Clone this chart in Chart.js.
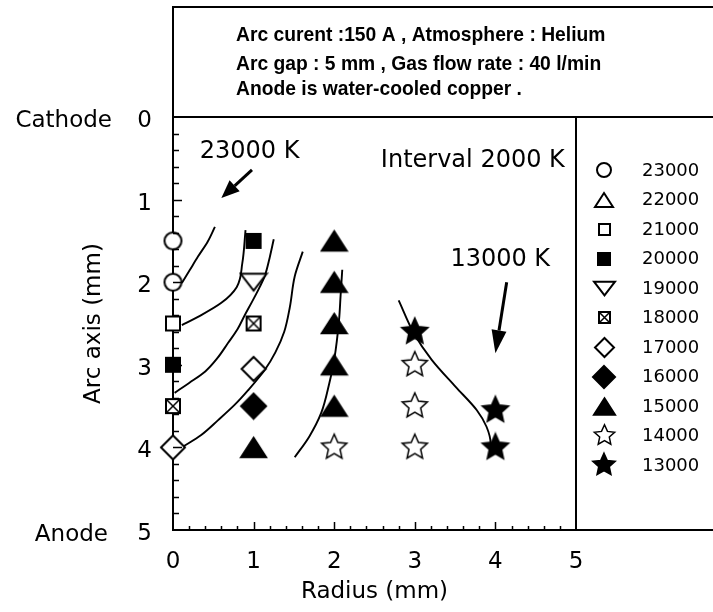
<!DOCTYPE html>
<html>
<head>
<meta charset="utf-8">
<script src="https://cdn.jsdelivr.net/npm/chart.js@4.4.1/dist/chart.umd.min.js"></script>
<style>
    html, body { margin: 0; padding: 0; background: #fff; }
    canvas { display: block; }
</style>
</head>
<body>
<canvas id="isothermChart" width="713" height="612"></canvas>
<script>
// Isotherms of a helium arc (radius vs. distance along the arc axis)
const temperatures = ['23000', '22000', '21000', '20000', '19000', '18000', '17000', '16000', '15000', '14000', '13000'];

// measured points, [radius mm, axial position mm]
const pts23000 = [[0, 1.5], [0, 2.0]];
const pts22000 = [];
const pts21000 = [[0, 2.5]];
const pts20000 = [[0, 3.0], [1, 1.5]];
const pts19000 = [[1, 2.0]];
const pts18000 = [[0, 3.5], [1, 2.5]];
const pts17000 = [[0, 4.0], [1, 3.05]];
const pts16000 = [[1, 3.5]];
const pts15000 = [[1, 4.0], [2, 1.5], [2, 2.0], [2, 2.5], [2, 3.0], [2, 3.5]];
const pts14000 = [[2, 4.0], [3, 3.0], [3, 3.5], [3, 4.0]];
const pts13000 = [[3, 2.6], [4, 3.55], [4, 4.0]];

// hand-fitted isotherm curves, ordered from cathode side to anode side
const iso23000 = [[0.52, 1.33], [0.43, 1.51], [0.31, 1.69], [0.21, 1.85], [0.11, 2.01]];
const iso21000 = [[0.90, 1.37], [0.86, 1.77], [0.79, 2.06], [0.60, 2.25], [0.31, 2.42], [0.11, 2.52]];
const iso19000 = [[1.25, 1.48], [1.20, 1.70], [1.14, 1.92], [1.08, 2.05], [0.99, 2.22], [0.89, 2.40], [0.80, 2.57], [0.68, 2.74], [0.55, 2.92], [0.40, 3.08], [0.20, 3.22], [0.02, 3.34]];
const iso17000 = [[1.61, 1.63], [1.51, 1.93], [1.45, 2.30], [1.38, 2.60], [1.27, 2.85], [1.14, 3.06], [0.93, 3.31], [0.77, 3.48], [0.56, 3.67], [0.35, 3.85], [0.11, 4.0]];
const iso15000 = [[2.10, 1.85], [2.08, 2.15], [2.06, 2.46], [2.00, 2.94], [1.94, 3.22], [1.84, 3.58], [1.69, 3.87], [1.51, 4.12]];
const iso13000 = [[2.80, 2.22], [2.99, 2.62], [3.21, 2.94], [3.51, 3.27], [3.77, 3.55], [3.89, 3.75], [3.94, 3.95], [3.94, 4.03]];

const xTicks = [0, 1, 2, 3, 4, 5];
const yTicks = [0, 1, 2, 3, 4, 5];

const conditions = [
    'Arc curent :150 A , Atmosphere : Helium',
    'Arc gap : 5 mm , Gas flow rate : 40 l/min',
    'Anode is water-cooled copper .'
];
const notes = ['23000 K', 'Interval 2000 K', '13000 K'];
const notePos = [[0.95, 0.42], [3.72, 0.53], [4.06, 1.73]];
const arrowFrom = [[0.98, 0.64], [4.14, 2.0]];
const arrowTo = [[0.60, 0.98], [4.0, 2.86]];

const points = [pts23000, pts22000, pts21000, pts20000, pts19000, pts18000,
    pts17000, pts16000, pts15000, pts14000, pts13000];
const isotherms = [iso23000, iso21000, iso19000, iso17000, iso15000, iso13000];

// marker look for each temperature, sizes: [in plot, in legend]
const markerKinds = ['circle', 'triUp', 'square', 'squareFill', 'triDown', 'squareX',
    'diamond', 'diamondFill', 'triUpFill', 'star', 'starFill'];
const MARKER_SIZE = {
    circle: [19, 16], triUp: [21, 18], square: [16, 13], squareFill: [16, 14],
    triDown: [26, 21], squareX: [16, 13], diamond: [24, 19], diamondFill: [25, 22],
    triUpFill: [25, 21], star: [28, 23], starFill: [28, 24]
};

const FONT = "'DejaVu Sans', sans-serif";
const BOX_TOP = 7;

function markerCanvas(kind, s) {
    const c = document.createElement('canvas');
    c.width = c.height = Math.ceil(s) + 4;
    const g = c.getContext('2d');
    const m = c.width / 2;
    const r = s / 2;
    const filled = kind.endsWith('Fill');
    g.lineWidth = 2;
    g.lineJoin = 'miter';
    g.strokeStyle = '#000';
    g.fillStyle = filled ? '#000' : '#fff';
    g.beginPath();
    if (kind === 'circle') {
        g.arc(m, m, r - 1, 0, Math.PI * 2);
    } else if (kind.startsWith('square')) {
        g.rect(m - r + 1, m - r + 1, s - 2, s - 2);
    } else if (kind.startsWith('triUp')) {
        const h = s * 0.78;
        g.moveTo(m, m - h / 2);
        g.lineTo(m + r, m + h / 2);
        g.lineTo(m - r, m + h / 2);
        g.closePath();
    } else if (kind === 'triDown') {
        const h = s * 0.65;
        g.moveTo(m - r, m - h / 2);
        g.lineTo(m + r, m - h / 2);
        g.lineTo(m, m + h / 2);
        g.closePath();
    } else if (kind.startsWith('diamond')) {
        g.moveTo(m, m - r);
        g.lineTo(m + r, m);
        g.lineTo(m, m + r);
        g.lineTo(m - r, m);
        g.closePath();
    } else if (kind.startsWith('star')) {
        const ri = r * 0.44;
        for (let k = 0; k < 10; k++) {
            const a = -Math.PI / 2 + k * Math.PI / 5;
            const rr = k % 2 ? ri : r - 0.8;
            g.lineTo(m + rr * Math.cos(a), m + rr * Math.sin(a));
        }
        g.closePath();
    }
    g.fill();
    g.lineWidth = kind === 'star' ? 1.5 : 2;
    g.stroke();
    if (kind === 'squareX') {
        g.beginPath();
        g.moveTo(m - r + 2, m - r + 2); g.lineTo(m + r - 2, m + r - 2);
        g.moveTo(m + r - 2, m - r + 2); g.lineTo(m - r + 2, m + r - 2);
        g.lineWidth = 1.5;
        g.stroke();
    }
    return c;
}

const legendIcons = markerKinds.map(k => markerCanvas(k, MARKER_SIZE[k][1]));

function drawArrow(ctx, x0, y0, x1, y1, headLen, headW) {
    const ang = Math.atan2(y1 - y0, x1 - x0);
    const bx = x1 - headLen * Math.cos(ang);
    const by = y1 - headLen * Math.sin(ang);
    ctx.beginPath();
    ctx.moveTo(x0, y0);
    ctx.lineTo(bx, by);
    ctx.lineWidth = 3;
    ctx.stroke();
    ctx.beginPath();
    ctx.moveTo(x1, y1);
    ctx.lineTo(bx + headW / 2 * Math.sin(ang), by - headW / 2 * Math.cos(ang));
    ctx.lineTo(bx - headW / 2 * Math.sin(ang), by + headW / 2 * Math.cos(ang));
    ctx.closePath();
    ctx.fill();
}

// frame, minor ticks, condition box, notes and the legend column
const framePlugin = {
    id: 'frame',
    afterDraw(chart) {
        const { ctx, chartArea: a, scales: { x, y } } = chart;
        const W = chart.width;
        ctx.save();
        ctx.strokeStyle = '#000';
        ctx.fillStyle = '#000';

        ctx.lineWidth = 2;
        ctx.beginPath();
        ctx.moveTo(a.left - 1, BOX_TOP); ctx.lineTo(W, BOX_TOP);
        ctx.moveTo(a.left, BOX_TOP); ctx.lineTo(a.left, a.top);
        ctx.moveTo(a.left, a.top); ctx.lineTo(W, a.top);
        ctx.moveTo(a.right, a.top); ctx.lineTo(a.right, a.bottom);
        ctx.moveTo(a.right, a.bottom); ctx.lineTo(W, a.bottom);
        ctx.stroke();

        // inward ticks, minor every 0.2 mm
        ctx.lineWidth = 1.5;
        ctx.beginPath();
        for (let k = 1; k < 25; k++) {
            const major = k % 5 === 0;
            const px = Math.round(x.getPixelForValue(k * 0.2)) + 0.5;
            ctx.moveTo(px, a.bottom);
            ctx.lineTo(px, a.bottom - (major ? 8 : 4));
            const py = Math.round(y.getPixelForValue(k * 0.2)) + 0.5;
            ctx.moveTo(a.left, py);
            ctx.lineTo(a.left + (major ? 9 : 6), py);
        }
        ctx.stroke();

        // run conditions, slightly condensed bold face
        ctx.save();
        ctx.font = 'bold 20.5px "Liberation Sans", Arial, sans-serif';
        ctx.textAlign = 'left';
        ctx.textBaseline = 'alphabetic';
        ctx.translate(236, 0);
        ctx.scale(0.94, 1);
        [41, 70, 95].forEach((base, i) => ctx.fillText(conditions[i], 0, base));
        ctx.restore();

        ctx.font = '23px ' + FONT;
        ctx.textAlign = 'right';
        ctx.textBaseline = 'middle';
        ctx.fillText('Cathode', 112, y.getPixelForValue(0) + 4);
        ctx.fillText('Anode', 108, y.getPixelForValue(5) + 5);

        ctx.font = '24px ' + FONT;
        ctx.textAlign = 'center';
        notes.forEach((t, i) => {
            ctx.fillText(t, x.getPixelForValue(notePos[i][0]), y.getPixelForValue(notePos[i][1]));
        });
        const heads = [[18, 15], [23, 15]];
        arrowFrom.forEach((p, i) => {
            drawArrow(ctx,
                x.getPixelForValue(p[0]), y.getPixelForValue(p[1]),
                x.getPixelForValue(arrowTo[i][0]), y.getPixelForValue(arrowTo[i][1]),
                heads[i][0], heads[i][1]);
        });

        // legend column
        ctx.font = '18px ' + FONT;
        ctx.textAlign = 'left';
        chart.data.datasets.filter(d => d.legendIndex !== undefined).forEach(d => {
            const cy = 170 + d.legendIndex * 29.5;
            const icon = legendIcons[d.legendIndex];
            ctx.drawImage(icon, Math.round(604 - icon.width / 2), Math.round(cy - icon.height / 2));
            ctx.fillText(d.label, 642, cy + 1);
        });
        ctx.restore();
    }
};

const toXY = arr => arr.map(([x, y]) => ({ x, y }));

const markerSets = temperatures.map((t, i) => ({
    label: t,
    legendIndex: i,
    data: toXY(points[i]),
    pointStyle: markerCanvas(markerKinds[i], MARKER_SIZE[markerKinds[i]][0]),
    showLine: false,
    clip: false,
    order: 0
}));

// curves are functions of the axial position, so interpolate along y
const curveSets = isotherms.map(iso => ({
    label: '',
    data: toXY(iso),
    indexAxis: 'y',
    showLine: true,
    pointRadius: 0,
    borderColor: '#000',
    borderWidth: 1.9,
    cubicInterpolationMode: 'monotone',
    fill: false,
    order: 1
}));

const axisFont = { family: FONT, size: 23 };

new Chart(document.getElementById('isothermChart'), {
    type: 'scatter',
    data: { datasets: [...markerSets, ...curveSets] },
    options: {
        responsive: false,
        animation: false,
        events: [],
        layout: { padding: { top: 117, right: 137, bottom: 0, left: 0 } },
        plugins: { legend: { display: false }, tooltip: { enabled: false } },
        scales: {
            x: {
                type: 'linear',
                position: 'bottom',
                min: 0,
                max: 5,
                afterBuildTicks: s => { s.ticks = xTicks.map(v => ({ value: v })); },
                ticks: { padding: 18, color: '#000', font: axisFont },
                grid: { display: false, drawTicks: false },
                border: { display: true, color: '#000', width: 2 },
                title: {
                    display: true, text: 'Radius (mm)', color: '#000', font: axisFont,
                    padding: { top: 0, bottom: 6 }
                },
                afterFit: s => { s.height = 82; }
            },
            y: {
                type: 'linear',
                position: 'left',
                reverse: true,
                min: 0,
                max: 5,
                afterBuildTicks: s => { s.ticks = yTicks.map(v => ({ value: v })); },
                ticks: { padding: 21, labelOffset: 4, color: '#000', font: axisFont },
                grid: { display: false, drawTicks: false },
                border: { display: true, color: '#000', width: 2 },
                title: {
                    display: true, text: 'Arc axis (mm)', color: '#000', font: axisFont,
                    padding: { top: 80, bottom: 0 }
                },
                afterFit: s => { s.width = 173; }
            }
        }
    },
    plugins: [framePlugin]
});
</script>
</body>
</html>
